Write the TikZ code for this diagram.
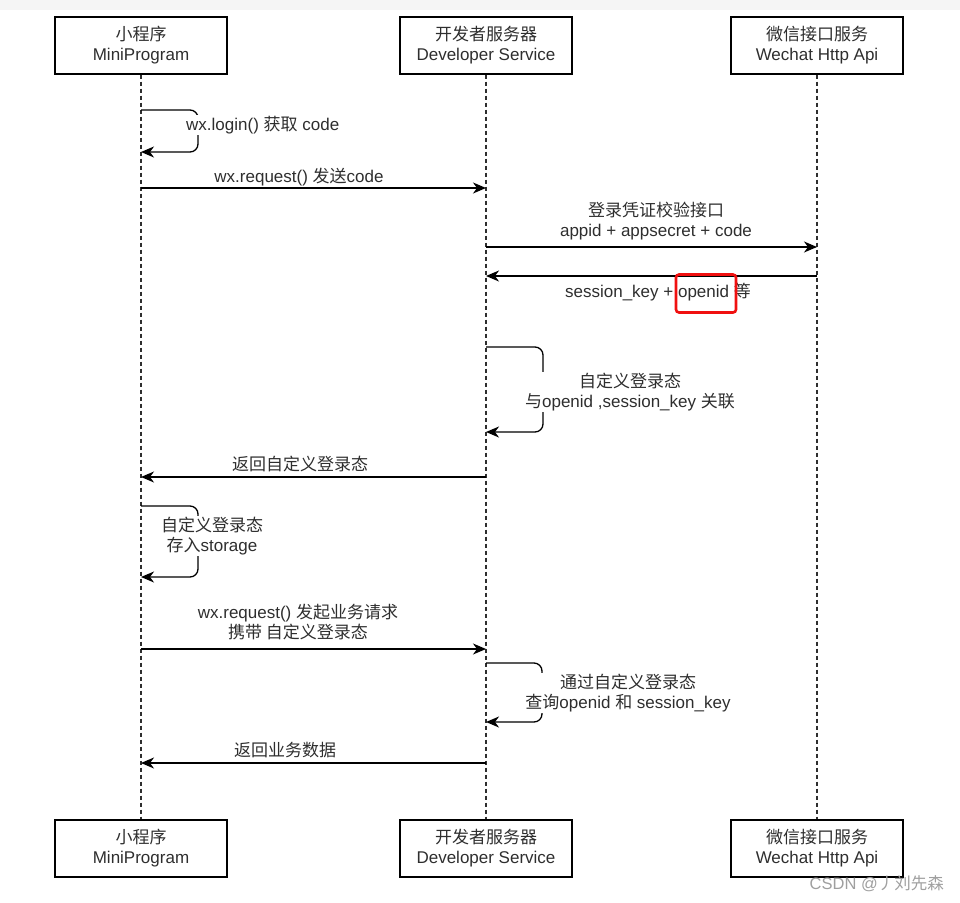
\documentclass[tikz,border=0pt]{standalone}
\usepackage{fontspec}
\setmainfont{Liberation Sans}
\newfontfamily\cjk{Noto Sans CJK SC}
\usetikzlibrary{arrows.meta}
\definecolor{txt}{HTML}{2E2E2E}
\definecolor{topbar}{HTML}{F5F5F5}
\definecolor{hlred}{HTML}{F01010}
\begin{document}
\begin{tikzpicture}[x=1pt,y=-1pt,
  actor/.style={draw=black,line width=1.3pt,minimum width=172pt,minimum height=57pt,align=center,font=\fontsize{17}{20}\selectfont,text=txt,inner sep=0pt},
  life/.style={line width=1.2pt,dash pattern=on 4pt off 3pt,draw=txt},
  msg/.style={line width=1.3pt,draw=black,-{Stealth[length=13pt,width=11pt,inset=4pt]}},
  loopmsg/.style={msg,rounded corners=8pt},
  lbl/.style={font=\fontsize{17}{20}\selectfont,text=txt,align=center,inner sep=1pt},
  lblw/.style={lbl,fill=white}]
\useasboundingbox (0,0) rectangle (960,902);
\fill[topbar] (0,0) rectangle (960,10);

% actors
\node[actor] (a1) at (141,45.5) {{\cjk 小程序}\\MiniProgram};
\node[actor] (a2) at (486,45.5) {{\cjk 开发者服务器}\\Developer Service};
\node[actor] (a3) at (817,45.5) {{\cjk 微信接口服务}\\Wechat Http Api};
\node[actor] (b1) at (141,848.5) {{\cjk 小程序}\\MiniProgram};
\node[actor] (b2) at (486,848.5) {{\cjk 开发者服务器}\\Developer Service};
\node[actor] (b3) at (817,848.5) {{\cjk 微信接口服务}\\Wechat Http Api};

% lifelines
\draw[life] (a1.south) -- (b1.north);
\draw[life] (a2.south) -- (b2.north);
\draw[life] (a3.south) -- (b3.north);

% 1 self loop
\draw[loopmsg] (a1.south |- 0,110) -- (198,110) -- (198,152) -- (a1.south |- 0,152);
\node[lblw,anchor=west] (t1) at (185,125) {wx.login() {\cjk 获取} code};

% 2
\draw[msg] (a1.south |- 0,188) -- (a2.south |- 0,188);
\node[lbl] (t2) at (299,177) {wx.request() {\cjk 发送}code};

% 3
\draw[msg] (a2.south |- 0,247) -- (a3.south |- 0,247);
\node[lbl] (t3) at (656,221) {{\cjk 登录凭证校验接口}\\appid + appsecret + code};

% 4
\draw[msg] (a3.south |- 0,276) -- (a2.south |- 0,276);
\node[lbl] (t4) at (658,292) {session\_key + openid {\cjk 等}};
\node[draw=hlred,line width=2.6pt,rounded corners=3pt,minimum width=60pt,minimum height=38pt,inner sep=0pt] (hl) at (706,293.5) {};

% 5 self loop
\draw[loopmsg] (a2.south |- 0,347) -- (543,347) -- (543,432) -- (a2.south |- 0,432);
\node[lblw] (t5) at (630,392) {{\cjk 自定义登录态}\\{\cjk 与}openid ,session\_key {\cjk 关联}};

% 6
\draw[msg] (a2.south |- 0,477) -- (a1.south |- 0,477);
\node[lbl] (t6) at (300,464) {\cjk 返回自定义登录态};

% 7 self loop
\draw[loopmsg] (a1.south |- 0,506) -- (198,506) -- (198,577) -- (a1.south |- 0,577);
\node[lblw] (t7) at (212,536) {{\cjk 自定义登录态}\\{\cjk 存入}storage};

% 8
\draw[msg] (a1.south |- 0,649) -- (a2.south |- 0,649);
\node[lbl] (t8) at (298,622) {wx.request() {\cjk 发起业务请求}\\{\cjk 携带 自定义登录态}};

% 9 self loop
\draw[loopmsg] (a2.south |- 0,663) -- (542,663) -- (542,722) -- (a2.south |- 0,722);
\node[lblw] (t9) at (628,693) {{\cjk 通过自定义登录态}\\{\cjk 查询}openid {\cjk 和} session\_key};

% 10
\draw[msg] (a2.south |- 0,763) -- (a1.south |- 0,763);
\node[lbl] (t10) at (285,750) {\cjk 返回业务数据};

% watermark
\node[font=\fontsize{16.5}{16.5}\selectfont,text=gray!75,anchor=east,inner sep=0pt] (wm) at (944,884) {CSDN @{\cjk 丿刘先森}};
\end{tikzpicture}
\end{document}
